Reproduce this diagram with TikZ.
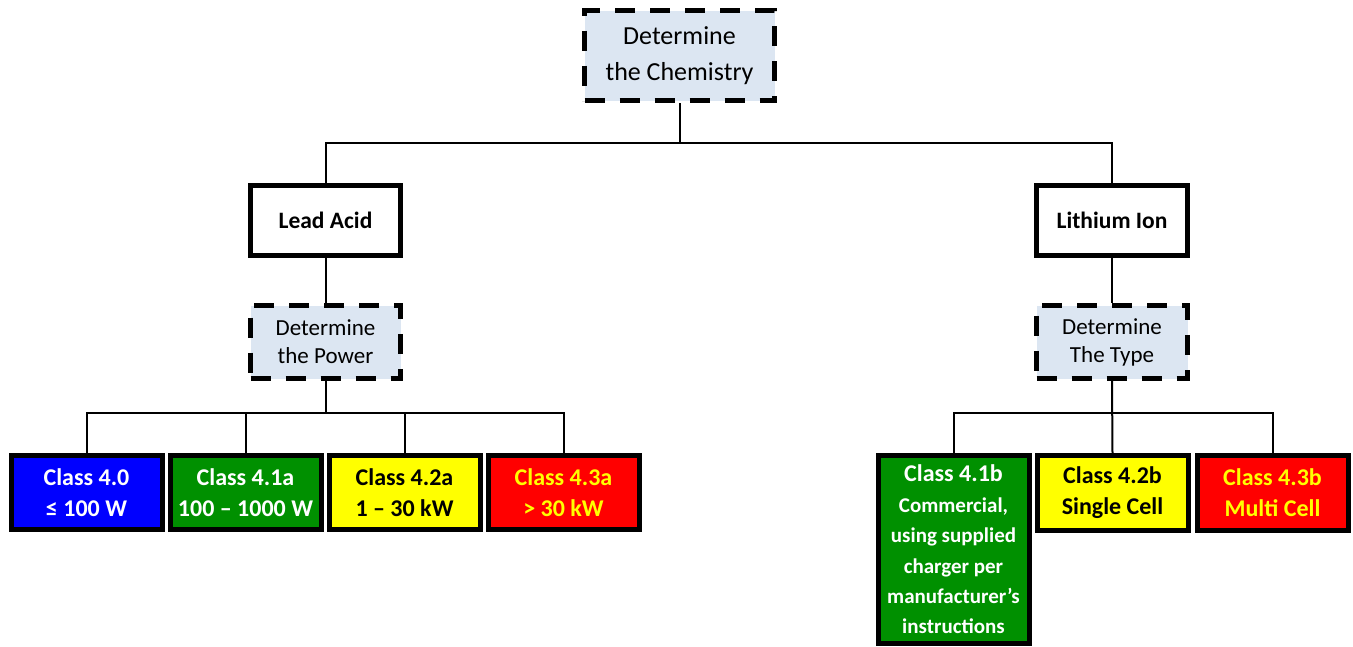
\documentclass[tikz,border=0pt]{standalone}
\usepackage{fontspec}
\setmainfont{Carlito}
\definecolor{detfill}{HTML}{DCE6F2}
\definecolor{cblue}{HTML}{0000FF}
\definecolor{cgreen}{HTML}{009000}
\definecolor{cyellow}{HTML}{FFFF00}
\definecolor{cred}{HTML}{FF0000}
\begin{document}
\begin{tikzpicture}[x=1pt,y=-1pt,
  detbox/.style={draw=black, line width=5pt, dash pattern=on 20pt off 15pt, fill=detfill, align=center, inner sep=0pt},
  catbox/.style={draw=black, line width=5pt, fill=white, align=center, font=\bfseries\fontsize{23.5}{28}\selectfont, inner sep=0pt},
  classbox/.style={draw=black, line width=5pt, align=center, font=\bfseries\fontsize{24}{31}\selectfont, inner sep=0pt, minimum width=151pt},
  conn/.style={line width=2pt}]
\useasboundingbox (0,0) rectangle (1353,646);

% top
\node[detbox, minimum width=190pt, minimum height=90pt, font=\fontsize{26}{36}\selectfont] (chem) at (679.5,55.5) {Determine\\the Chemistry};

% categories
\node[catbox, minimum width=150pt, minimum height=70pt] (lead) at (325.5,220.5) {Lead Acid};
\node[catbox, minimum width=151pt, minimum height=70pt] (lith) at (1112,220.5) {Lithium Ion};

% determine boxes
\node[detbox, minimum width=150pt, minimum height=73pt, font=\fontsize{23}{28}\selectfont] (power) at (325.5,342) {Determine\\the Power};
\node[detbox, minimum width=151pt, minimum height=73pt, font=\fontsize{23}{28}\selectfont] (type) at (1112,342) {Determine\\The Type};

% class boxes (lead acid)
\node[classbox, fill=cblue, text=white, minimum height=74pt] (c40) at (86.5,492.5) {Class 4.0\\≤ 100 W};
\node[classbox, fill=cgreen, text=white, minimum height=74pt] (c41a) at (245.5,492.5) {Class 4.1a\\100 – 1000 W};
\node[classbox, fill=cyellow, text=black, minimum height=74pt] (c42a) at (404.5,492.5) {Class 4.2a\\1 – 30 kW};
\node[classbox, fill=cred, text=cyellow, minimum height=74pt] (c43a) at (563.5,492.5) {Class 4.3a\\> 30 kW};

% class boxes (lithium)
\node[classbox, fill=cgreen, text=white, minimum height=188pt, font=\bfseries\fontsize{21}{30.4}\selectfont] (c41b) at (953.5,549.5) {\fontsize{24}{30.4}\selectfont Class 4.1b\\Commercial,\\using supplied\\charger per\\manufacturer’s\\instructions};
\node[classbox, fill=cyellow, text=black, minimum height=75pt] (c42b) at (1112.5,493) {Class 4.2b\\Single Cell};
\node[classbox, fill=cred, text=cyellow, minimum height=75pt] (c43b) at (1272.5,493) {Class 4.3b\\Multi Cell};

% connectors
\draw[conn] (chem.south) -- (chem.south |- 0,143);
\draw[conn] (lead.north) |- (lith.north |- 0,143) -- (lith.north);
\draw[conn] (lead.south) -- (power.north);
\draw[conn] (lith.south) -- (type.north);

\draw[conn] (power.south) -- (power.south |- 0,413);
\draw[conn] (c40.north) |- (c43a.north |- 0,413) -- (c43a.north);
\draw[conn] (c41a.north) -- (c41a.north |- 0,413);
\draw[conn] (c42a.north) -- (c42a.north |- 0,413);

\draw[conn] (type.south) -- (c42b.north);
\draw[conn] (c41b.north) |- (c43b.north |- 0,413) -- (c43b.north);
\end{tikzpicture}
\end{document}
